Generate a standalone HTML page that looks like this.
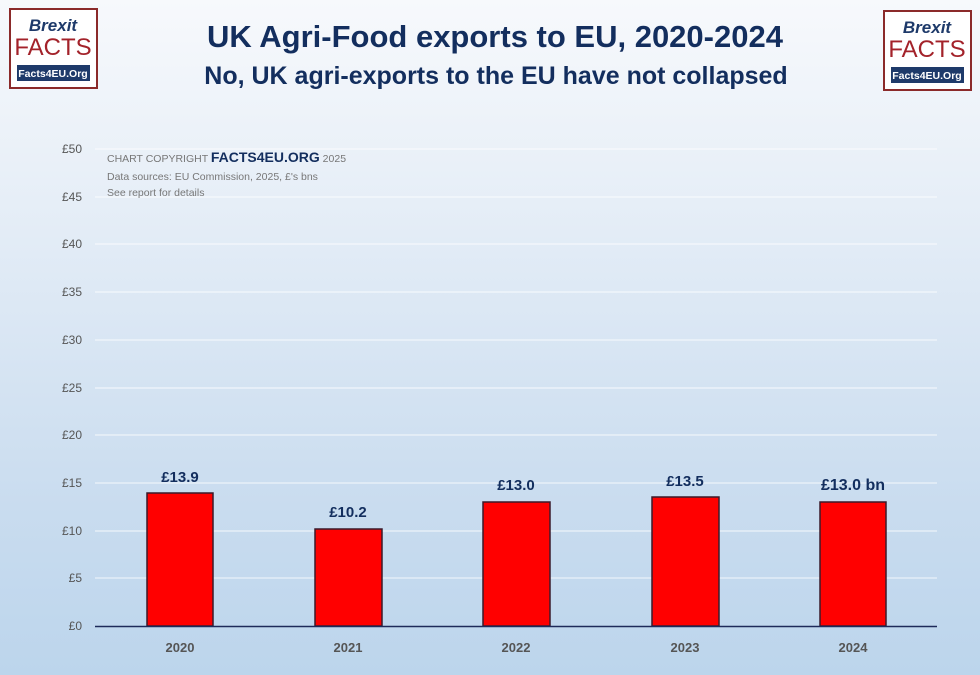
<!DOCTYPE html>
<html><head><meta charset="utf-8"><style>
html,body{margin:0;padding:0}
body{width:980px;height:675px;overflow:hidden;background:linear-gradient(#f7f9fc 0%,#e6eef7 30%,#c9dcef 75%,#bcd5ec 100%);font-family:"Liberation Sans",sans-serif;position:relative}
</style></head><body>
<svg width="980" height="675" xmlns="http://www.w3.org/2000/svg" style="position:absolute;left:0;top:0">
<g font-family="Liberation Sans, sans-serif">
 <g transform="translate(10,9)">
  <rect x="0" y="0" width="87" height="79" fill="#fff" stroke="#8b2a2a" stroke-width="2"/>
  <text x="43" y="22" text-anchor="middle" font-size="17" font-style="italic" font-weight="bold" fill="#1e3a6a">Brexit</text>
  <text x="43" y="46" text-anchor="middle" font-size="24" fill="#a3222a">FACTS</text>
  <rect x="7" y="56" width="73" height="16" fill="#1e3a6a"/>
  <text x="43" y="68" text-anchor="middle" font-size="10.5" font-weight="bold" fill="#fff">Facts4EU.Org</text>
 </g>
 <g transform="translate(884,11)">
  <rect x="0" y="0" width="87" height="79" fill="#fff" stroke="#8b2a2a" stroke-width="2"/>
  <text x="43" y="22" text-anchor="middle" font-size="17" font-style="italic" font-weight="bold" fill="#1e3a6a">Brexit</text>
  <text x="43" y="46" text-anchor="middle" font-size="24" fill="#a3222a">FACTS</text>
  <rect x="7" y="56" width="73" height="16" fill="#1e3a6a"/>
  <text x="43" y="68" text-anchor="middle" font-size="10.5" font-weight="bold" fill="#fff">Facts4EU.Org</text>
 </g>
</g>
<text x="495" y="47" text-anchor="middle" font-size="31" font-weight="bold" fill="#132e5e" font-family="Liberation Sans, sans-serif">UK Agri-Food exports to EU, 2020-2024</text>
<text x="496" y="84" text-anchor="middle" font-size="25" font-weight="bold" fill="#132e5e" font-family="Liberation Sans, sans-serif">No, UK agri-exports to the EU have not collapsed</text>
<g stroke="#ffffff" stroke-opacity="0.8" stroke-width="1">
 <line x1="95" x2="937" y1="149" y2="149"/><line x1="95" x2="937" y1="197" y2="197"/>
 <line x1="95" x2="937" y1="244" y2="244"/><line x1="95" x2="937" y1="292" y2="292"/>
 <line x1="95" x2="937" y1="340" y2="340"/><line x1="95" x2="937" y1="388" y2="388"/>
 <line x1="95" x2="937" y1="435" y2="435"/><line x1="95" x2="937" y1="483" y2="483"/>
 <line x1="95" x2="937" y1="531" y2="531"/><line x1="95" x2="937" y1="578" y2="578"/>
</g>
<g font-size="12" fill="#555" text-anchor="end" font-family="Liberation Sans, sans-serif">
 <text x="82" y="153">£50</text><text x="82" y="201">£45</text><text x="82" y="248">£40</text>
 <text x="82" y="296">£35</text><text x="82" y="344">£30</text><text x="82" y="392">£25</text>
 <text x="82" y="439">£20</text><text x="82" y="487">£15</text><text x="82" y="535">£10</text>
 <text x="82" y="582">£5</text><text x="82" y="630">£0</text>
</g>
<g font-family="Liberation Sans, sans-serif" fill="#777" font-size="10.5">
 <text x="107" y="162">CHART COPYRIGHT <tspan font-size="14" font-weight="bold" fill="#132e5e">FACTS4EU.ORG</tspan> 2025</text>
 <text x="107" y="180">Data sources: EU Commission, 2025, £'s bns</text>
 <text x="107" y="196">See report for details</text>
</g>
<g fill="#ff0000" stroke="#3a1a2a" stroke-width="1.5">
 <rect x="147" y="493" width="66" height="133"/>
 <rect x="315" y="529" width="67" height="97"/>
 <rect x="483" y="502" width="67" height="124"/>
 <rect x="652" y="497" width="67" height="129"/>
 <rect x="820" y="502" width="66" height="124"/>
</g>
<line x1="95" x2="937" y1="626.5" y2="626.5" stroke="#1e2a5a" stroke-width="1.5"/>
<g font-family="Liberation Sans, sans-serif" font-weight="bold" fill="#132e5e" text-anchor="middle" font-size="15">
 <text x="180" y="482">£13.9</text><text x="348" y="517">£10.2</text>
 <text x="516" y="490">£13.0</text><text x="685" y="486">£13.5</text>
 <text x="853" y="490" font-size="16">£13.0 bn</text>
</g>
<g font-family="Liberation Sans, sans-serif" font-weight="bold" fill="#555" text-anchor="middle" font-size="13">
 <text x="180" y="652">2020</text><text x="348" y="652">2021</text><text x="516" y="652">2022</text>
 <text x="685" y="652">2023</text><text x="853" y="652">2024</text>
</g>
</svg>
</body></html>
